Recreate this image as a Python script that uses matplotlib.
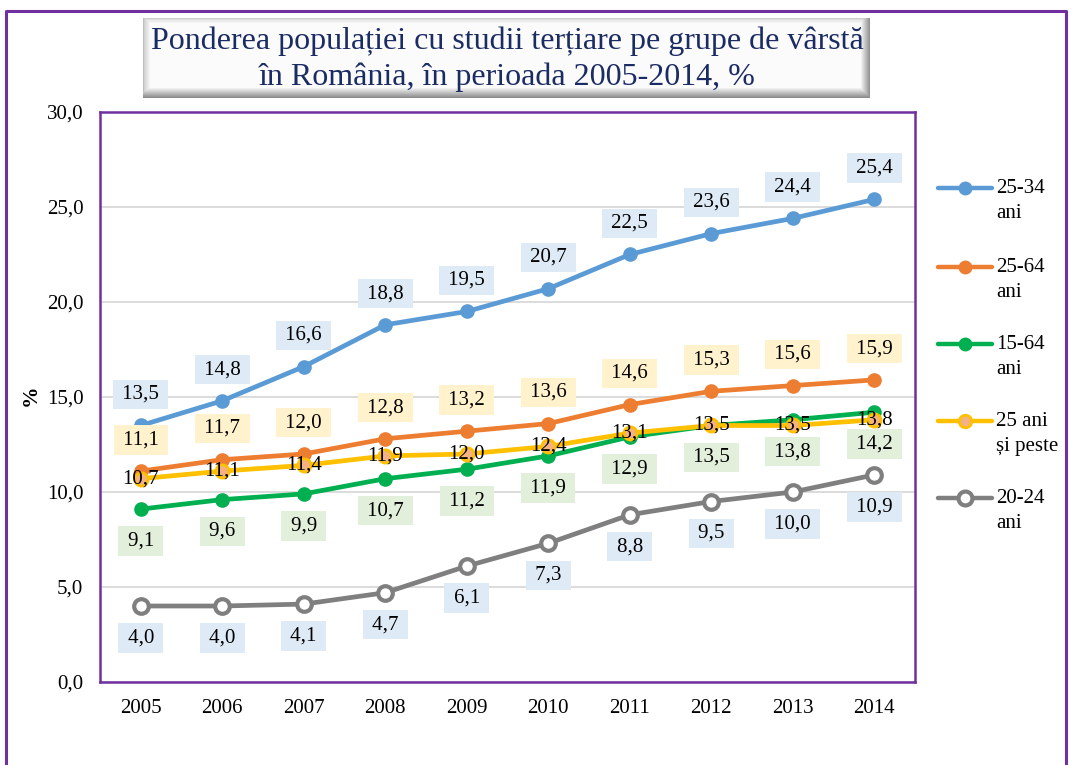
import matplotlib
matplotlib.use('Agg')
import matplotlib.pyplot as plt
import numpy as np

# ---------------- data ----------------
years = ['2005', '2006', '2007', '2008', '2009', '2010', '2011', '2012', '2013', '2014']
s_25_34 = [13.5, 14.8, 16.6, 18.8, 19.5, 20.7, 22.5, 23.6, 24.4, 25.4]
s_25_64 = [11.1, 11.7, 12.0, 12.8, 13.2, 13.6, 14.6, 15.3, 15.6, 15.9]
s_15_64 = [9.1, 9.6, 9.9, 10.7, 11.2, 11.9, 12.9, 13.5, 13.8, 14.2]
s_25_plus = [10.7, 11.1, 11.4, 11.9, 12.0, 12.4, 13.1, 13.5, 13.5, 13.8]
s_20_24 = [4.0, 4.0, 4.1, 4.7, 6.1, 7.3, 8.8, 9.5, 10.0, 10.9]
series_labels = ['25-34\nani', '25-64\nani', '15-64\nani', '25 ani\nși peste', '20-24\nani']
y_ticks = [0, 5, 10, 15, 20, 25, 30]
y_tick_labels = ['0,0', '5,0', '10,0', '15,0', '20,0', '25,0', '30,0']
title_lines = ['Ponderea populației cu studii terțiare pe grupe de vârstă',
               'în România, în perioada 2005-2014, %']

# ---------------- styles ----------------
plt.rcParams['font.family'] = ['Liberation Serif', 'DejaVu Serif']
PURPLE = '#7030A0'
FS = 15
styles = [
    dict(c='#5B9BD5', mfc='#5B9BD5', mec='#5B9BD5', ms=9.5, mew=1, dy=22.5, box='#DEEBF7'),
    dict(c='#ED7D31', mfc='#ED7D31', mec='#ED7D31', ms=9.5, mew=1, dy=22.5, box='#FFF2CC'),
    dict(c='#00B050', mfc='#00B050', mec='#00B050', ms=9.5, mew=1, dy=-23, box='#E2EFDA'),
    dict(c='#FFC000', mfc='#F4B183', mec='#FFC000', ms=9.5, mew=2, dy=0, box=None),
    dict(c='#7F7F7F', mfc='white', mec='#7F7F7F', ms=10.5, mew=3, dy=-23, box='#DEEBF7'),
]
all_series = [s_25_34, s_25_64, s_15_64, s_25_plus, s_20_24]

W, H = 1069, 765
fig = plt.figure(figsize=(W / 100, H / 100), dpi=100)

over = fig.add_axes([0, 0, 1, 1])
over.axis('off')

# title bevel box
bw, bh = 727, 80
yy, xx = np.mgrid[0:bh, 0:bw]
v = np.full((bh, bw), 0.985)
v = np.minimum(v, 0.80 + 0.185 * np.clip(xx / 7.0, 0, 1))
v = np.minimum(v, 0.86 + 0.125 * np.clip(yy / 5.0, 0, 1))
v = np.minimum(v, 0.55 + 0.435 * np.clip((bh - 1 - yy) / 10.0, 0, 1))
v = np.minimum(v, 0.58 + 0.405 * np.clip((bw - 1 - xx) / 9.0, 0, 1))
v[0, :] = np.minimum(v[0, :], 0.8)
v[:, 0] = np.minimum(v[:, 0], 0.75)
rgb = np.dstack([v, v, v])
over.imshow(rgb, extent=(143, 143 + bw, 18 + bh, 18), aspect='auto', interpolation='bilinear')
over.text(507, 41, title_lines[0], ha='center', va='center', fontsize=23, color='#1B2B63')
over.text(507, 77, title_lines[1], ha='center', va='center', fontsize=23, color='#1B2B63')

# outer border
over.plot([6, 6, 1066, 1066], [H + 10, 11, 11, H + 10], color=PURPLE, lw=2.2, clip_on=False)

# y label
over.text(31, 395, '%', rotation=90, ha='center', va='center', fontsize=15.5, fontweight='bold')

# legend
leg_y = [188, 267, 344, 421, 498]
for st, lab, ly in zip(styles, series_labels, leg_y):
    over.plot([938, 965, 992], [ly, ly, ly], color=st['c'], lw=3.2, solid_capstyle='round',
              marker='o', markevery=[1], ms=st['ms'] - 0.5, mfc=st['mfc'], mec=st['mec'], mew=st['mew'])
    l1, l2 = lab.split('\n')
    over.text(996, ly, l1, ha='left', va='center', fontsize=FS)
    over.text(996, ly + 25, l2, ha='left', va='center', fontsize=FS)

over.set_xlim(0, W)
over.set_ylim(H, 0)

# ---------------- main chart ----------------
ax = fig.add_axes([100 / W, (H - 682) / H, 815 / W, 570 / H])
x = np.arange(len(years))
for vals, st in zip(all_series, styles):
    ax.plot(x, vals, color=st['c'], lw=3.4, marker='o', ms=st['ms'],
            mfc=st['mfc'], mec=st['mec'], mew=st['mew'], solid_capstyle='round', zorder=3)
for vals, st in zip(all_series, styles):
    for i, val in enumerate(vals):
        txt = f'{val:.1f}'.replace('.', ',')
        bbox = None
        if st['box']:
            txt = '\u2009' + txt + '\u2009'
            bbox = dict(boxstyle='square,pad=0.25', fc=st['box'], ec='none')
        ax.annotate(txt, (i, val), xytext=(0, st['dy']), textcoords='offset points',
                    ha='center', va='center', fontsize=FS, bbox=bbox, zorder=5)

ax.set_xlim(-0.5, len(years) - 0.5)
ax.set_ylim(0, 30)
ax.set_xticks(x)
ax.set_xticklabels(years)
ax.set_yticks(y_ticks)
ax.set_yticklabels(y_tick_labels)
ax.tick_params(axis='both', length=0, labelsize=FS)
ax.tick_params(axis='y', pad=12)
ax.tick_params(axis='x', pad=12)
ax.yaxis.grid(True, color='#D9D9D9', lw=1.3)
ax.set_axisbelow(True)
for sp in ax.spines.values():
    sp.set_color(PURPLE)
    sp.set_linewidth(1.8)

fig.savefig('out.png', dpi=100)
